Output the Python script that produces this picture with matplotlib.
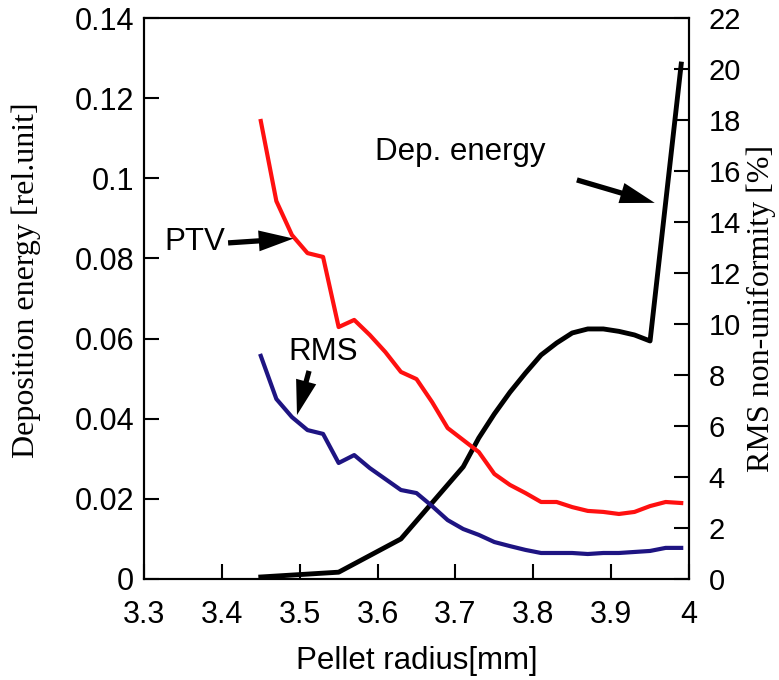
import matplotlib
matplotlib.use("Agg")
import matplotlib.pyplot as plt

# pellet radius [mm] for the PTV / RMS curves
radius = [3.45, 3.47, 3.49, 3.51, 3.53, 3.55, 3.57, 3.59, 3.61, 3.63, 3.65, 3.67, 3.69, 3.71,
          3.73, 3.75, 3.77, 3.79, 3.81, 3.83, 3.85, 3.87, 3.89, 3.91, 3.93, 3.95, 3.97, 3.99]
ptv = [17.96, 14.82, 13.49, 12.78, 12.63, 9.88, 10.16, 9.57, 8.90, 8.12, 7.84, 6.94, 5.92, 5.45,
       4.98, 4.12, 3.69, 3.37, 3.02, 3.02, 2.82, 2.67, 2.63, 2.55, 2.63, 2.86, 3.02, 2.98]
rms = [8.75, 7.06, 6.35, 5.84, 5.69, 4.55, 4.86, 4.35, 3.92, 3.49, 3.37, 2.86, 2.31, 1.96,
       1.73, 1.45, 1.29, 1.14, 1.02, 1.02, 1.02, 0.98, 1.02, 1.02, 1.06, 1.10, 1.22, 1.22]

# deposition energy (left axis)
radius_dep = [3.45, 3.55, 3.63, 3.71, 3.73, 3.75, 3.77, 3.79, 3.81, 3.83, 3.85, 3.87, 3.89,
              3.91, 3.93, 3.95, 3.99]
dep = [0.0005, 0.0017, 0.0100, 0.0280, 0.0352, 0.0412, 0.0466, 0.0514, 0.0559, 0.0589, 0.0614,
       0.0624, 0.0624, 0.0618, 0.0609, 0.0594, 0.1285]

xticks = [3.3, 3.4, 3.5, 3.6, 3.7, 3.8, 3.9, 4.0]
xticklabels = ["3.3", "3.4", "3.5", "3.6", "3.7", "3.8", "3.9", "4"]
lticks = [0, 0.02, 0.04, 0.06, 0.08, 0.1, 0.12, 0.14]
lticklabels = ["0", "0.02", "0.04", "0.06", "0.08", "0.1", "0.12", "0.14"]
rticks = list(range(0, 23, 2))

plt.rcParams["font.family"] = ["Liberation Sans", "DejaVu Sans"]
serif = ["Liberation Serif", "DejaVu Serif"]

fig = plt.figure(figsize=(7.79, 6.80), dpi=100)
ax = fig.add_axes([144/779, 1-579/680, 545/779, 561/680])
ax2 = ax.twinx()

ax.plot(radius_dep, dep, color="black", lw=3.5)
ax2.plot(radius, ptv, color="#ff1010", lw=3.0)
ax2.plot(radius, rms, color="#1e1482", lw=3.0)

ax.set_xlim(3.3, 4.0)
ax.set_ylim(0, 0.14)
ax2.set_ylim(0, 22)
ax.set_xticks(xticks)
ax.set_xticklabels(xticklabels)
ax.set_yticks(lticks)
ax.set_yticklabels(lticklabels)
ax2.set_yticks(rticks)
ax2.set_yticklabels([str(t) for t in rticks])

for a in (ax, ax2):
    for s in a.spines.values():
        s.set_linewidth(1.5)
ax.tick_params(axis="both", direction="in", length=11, width=1.5, labelsize=22)
ax.tick_params(axis="x", pad=15)
ax.tick_params(axis="y", pad=7)
ax2.tick_params(axis="y", direction="in", length=11, width=1.5, labelsize=21, pad=14)

ax.set_xlabel("Pellet radius[mm]", fontsize=22.5, labelpad=12)
fig.text(26/779, 1-280/680, "Deposition energy [rel.unit]", rotation=90,
         ha="center", va="center", fontsize=23, family=serif)
fig.text(761/779, 1-308/680, "RMS non-uniformity [%]", rotation=90,
         ha="center", va="center", fontsize=23, family=serif)

arrow = dict(width=3.8, headwidth=15, headlength=25, shrink=0, facecolor="black",
             edgecolor="black", lw=0)
ax2.text(3.365, 13.2, "PTV", fontsize=22.5, ha="center", va="center")
ax2.annotate("", xy=(3.492, 13.35), xytext=(3.408, 13.18), arrowprops=arrow)
ax2.text(3.530, 8.9, "RMS", fontsize=22.5, ha="center", va="center")
ax2.annotate("", xy=(3.4965, 6.43), xytext=(3.512, 8.16), arrowprops=arrow)
ax2.text(3.706, 16.75, "Dep. energy", fontsize=22.5, ha="center", va="center")
ax2.annotate("", xy=(3.956, 14.75), xytext=(3.856, 15.65), arrowprops=arrow)

fig.savefig("out.png", dpi=100)
